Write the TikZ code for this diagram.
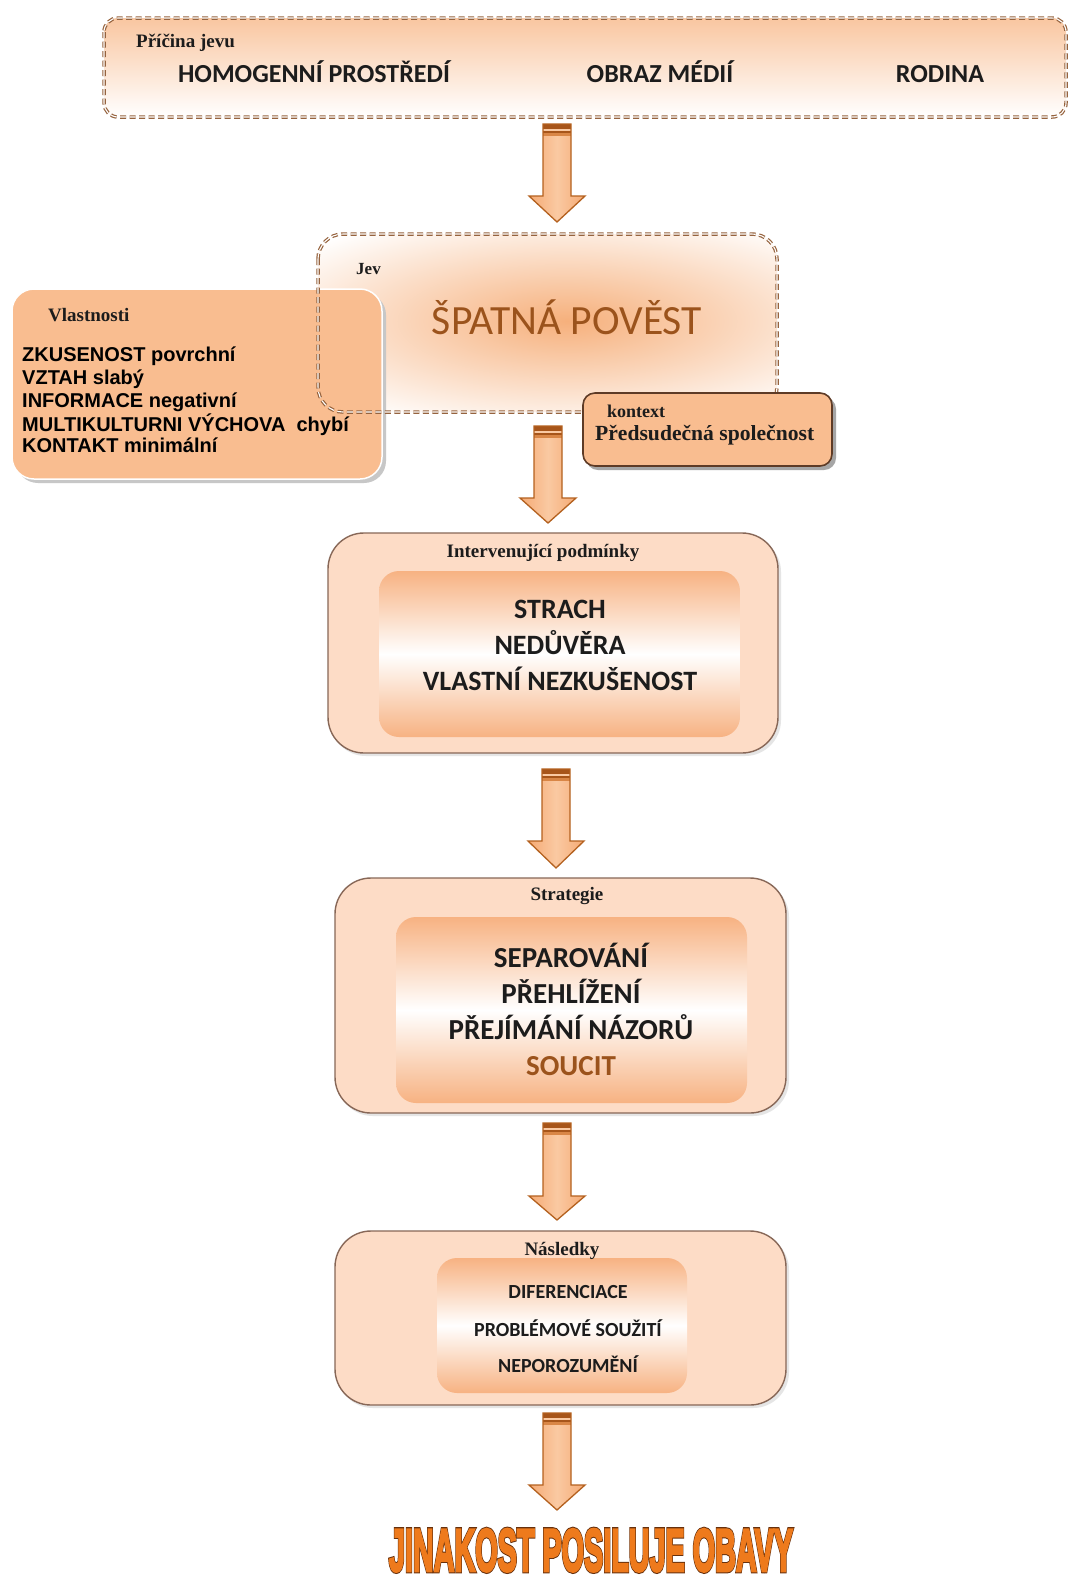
\documentclass[tikz,border=0pt]{standalone}
\usepackage{fontspec}
\usepackage{graphicx}
\setmainfont{Liberation Serif}
\newfontfamily\calib{Carlito}
\newfontfamily\arialf{Liberation Sans}

\definecolor{dashc}{HTML}{96633E}
\definecolor{topor}{HTML}{F9C6A0}
\definecolor{glow}{HTML}{F6B07C}
\definecolor{vlfill}{HTML}{F9BD90}
\definecolor{ctxborder}{HTML}{5E3B26}
\definecolor{outfill}{HTML}{FDDCC6}
\definecolor{outline}{HTML}{876757}
\definecolor{inor}{HTML}{F7B282}
\definecolor{arrA}{HTML}{F5AA74}
\definecolor{arrB}{HTML}{FAC9A2}
\definecolor{arrO}{HTML}{B4611F}
\definecolor{arrD}{HTML}{A7551A}
\definecolor{arrM}{HTML}{D98646}
\definecolor{ink}{HTML}{1C1C1C}
\definecolor{brownt}{HTML}{9B531C}
\definecolor{finalor}{HTML}{EE7A1C}

% heavy glyphs with a thin dark rim for the closing slogan
\newcommand\heavytext[1]{%
  \rlap{\special{pdf:literal direct 2 Tr 4.6 w 0.40 0.19 0.05 RG}#1\special{pdf:literal direct 0 Tr}}%
  \special{pdf:literal direct 2 Tr 2.6 w 0.933 0.478 0.11 RG}#1\special{pdf:literal direct 0 Tr}}

% block arrow: centre x, top, start of head, tip
\newcommand\blockarrow[4]{%
  \begin{scope}[shift={(#1,0)}]
    \shade[left color=arrA, right color=arrA, middle color=arrB]
      (-14,#2) -- (14,#2) -- (14,#3) -- (28,#3) -- (0,#4) -- (-28,#3) -- (-14,#3) -- cycle;
    \fill[arrD] (-14,#2) rectangle (14,#2+5);
    \fill[arrB] (-14,#2+5) rectangle (14,#2+7);
    \fill[arrD] (-14,#2+7) rectangle (14,#2+9);
    \fill[arrM] (-14,#2+9) rectangle (14,#2+12);
    \draw[arrO, line width=1.3pt, line join=miter]
      (-14,#2) -- (14,#2) -- (14,#3) -- (28,#3) -- (0,#4) -- (-28,#3) -- (-14,#3) -- cycle;
  \end{scope}}

\tikzset{
  dashborder/.style={draw=dashc, line width=1.2pt, double=white, double distance=1.1pt,
                     dash pattern=on 6pt off 3.5pt},
  outerbox/.style={fill=outfill, draw=outline, line width=1.4pt, rounded corners=36},
  innerbox/.style={top color=inor, bottom color=inor, middle color=white, rounded corners=20},
  boxshadow/.style={fill=black!10, rounded corners=36},
  serifhead/.style={font=\bfseries\fontsize{19}{19}\selectfont, text=ink, inner sep=0pt},
  causetext/.style={font=\calib\bfseries\fontsize{26}{26}\selectfont, text=ink, inner sep=0pt, anchor=base},
  bigtext/.style={font=\calib\bfseries\fontsize{28}{28}\selectfont, text=ink, inner sep=0pt, anchor=base},
  strattext/.style={font=\calib\bfseries\fontsize{29}{29}\selectfont, text=ink, inner sep=0pt, anchor=base},
  smalltext/.style={font=\calib\bfseries\fontsize{20}{20}\selectfont, text=ink, inner sep=0pt, anchor=base},
  proptext/.style={font=\arialf\bfseries\fontsize{20}{20}\selectfont, text=black, inner sep=0pt, anchor=base west},
}

\begin{document}
\begin{tikzpicture}[x=1pt, y=-1pt]
\useasboundingbox (0,0) rectangle (1069,1583);
\fill[white] (0,0) rectangle (1069,1583);

% ---------- causes ----------
\shade[top color=topor, bottom color=white, rounded corners=14] (104,18) rectangle (1066,117);
\draw[dashborder, rounded corners=14] (104,18) rectangle (1066,117);
\node[serifhead, anchor=base west] (causelabel) at (136,47) {Příčina jevu};
\node[causetext] (cause1) at (314,82) {HOMOGENNÍ PROSTŘEDÍ};
\node[causetext] (cause2) at (660,82) {OBRAZ MÉDIÍ};
\node[causetext] (cause3) at (940,82) {RODINA};

\blockarrow{557}{124}{196}{222}

% ---------- phenomenon ----------
\fill[white, rounded corners=25] (318,234) rectangle (777,412);
\begin{scope}
  \clip[rounded corners=25] (318,234) rectangle (777,412);
  \shade[inner color=glow, outer color=white] (567,321) ellipse (340 and 115);
\end{scope}

% properties
\fill[black!22, rounded corners=22] (16,293) rectangle (386,483);
\filldraw[fill=vlfill, draw=white, line width=1.5pt, rounded corners=22] (12,289) rectangle (382,479);
\node[serifhead, anchor=base west] (proplabel) at (48,321) {Vlastnosti};
\node[proptext] (prop1) at (22,361) {ZKUSENOST povrchní};
\node[proptext] (prop2) at (22,384) {VZTAH slabý};
\node[proptext] (prop3) at (22,407) {INFORMACE negativní};
\node[proptext] (prop4) at (22,431) {MULTIKULTURNI VÝCHOVA\ \ chybí};
\node[proptext] (prop5) at (22,452) {KONTAKT minimální};

\draw[dashborder, rounded corners=25] (318,234) rectangle (777,412);
\node[serifhead, anchor=base west, font=\bfseries\fontsize{17}{17}\selectfont] (phenlabel) at (356,274) {Jev};
\node[anchor=base, inner sep=0pt, text=brownt] (phen) at (567,334)
  {\resizebox{270pt}{!}{\calib\fontsize{40}{40}\selectfont ŠPATNÁ POVĚST}};

% context
\fill[black!35, rounded corners=12] (586,397) rectangle (836,470);
\filldraw[fill=vlfill, draw=ctxborder, line width=1.6pt, rounded corners=12] (583,393) rectangle (832,466);
\node[serifhead, anchor=base west, font=\bfseries\fontsize{18}{18}\selectfont] (ctxlabel) at (607,417) {kontext};
\node[serifhead, anchor=base west, font=\bfseries\fontsize{21.6}{22}\selectfont] (ctx) at (595,440) {Předsudečná společnost};

\blockarrow{548}{426}{498}{523}

% ---------- intervening conditions ----------
\fill[boxshadow] (330,536) rectangle (781,756);
\path[outerbox] (328,533) rectangle (778,753);
\path[innerbox] (379,571) rectangle (740,737);
\node[serifhead, anchor=base] (condlabel) at (543,557) {Intervenující podmínky};
\node[bigtext] (cond1) at (560,618) {STRACH};
\node[bigtext] (cond2) at (560,654) {NEDŮVĚRA};
\node[bigtext] (cond3) at (560,690) {VLASTNÍ NEZKUŠENOST};

\blockarrow{556}{769}{841}{868}

% ---------- strategies ----------
\fill[boxshadow] (337,881) rectangle (789,1116);
\path[outerbox] (335,878) rectangle (786,1113);
\path[innerbox] (396,917) rectangle (747,1103);
\node[serifhead, anchor=base] (stratlabel) at (567,900) {Strategie};
\node[strattext] (strat1) at (571,967) {SEPAROVÁNÍ};
\node[strattext] (strat2) at (571,1003) {PŘEHLÍŽENÍ};
\node[strattext] (strat3) at (571,1039) {PŘEJÍMÁNÍ NÁZORŮ};
\node[strattext, text=brownt] (strat4) at (571,1075) {SOUCIT};

\blockarrow{557}{1123}{1196}{1220}

% ---------- consequences ----------
\fill[boxshadow] (337,1234) rectangle (789,1408);
\path[outerbox] (335,1231) rectangle (786,1405);
\path[innerbox] (437,1258) rectangle (687,1393);
\node[serifhead, anchor=base] (conslabel) at (562,1255) {Následky};
\node[smalltext] (cons1) at (568,1298) {DIFERENCIACE};
\node[smalltext] (cons2) at (568,1336) {PROBLÉMOVÉ SOUŽITÍ};
\node[smalltext] (cons3) at (568,1372) {NEPOROZUMĚNÍ};

\blockarrow{557}{1413}{1485}{1510}

% ---------- outcome ----------
\node[anchor=base, inner sep=0pt, text=finalor] (outcome) at (591,1571)
  {\resizebox{404pt}{42pt}{\arialf\bfseries\fontsize{58}{58}\selectfont\heavytext{JINAKOST POSILUJE OBAVY}}};
\end{tikzpicture}
\end{document}
